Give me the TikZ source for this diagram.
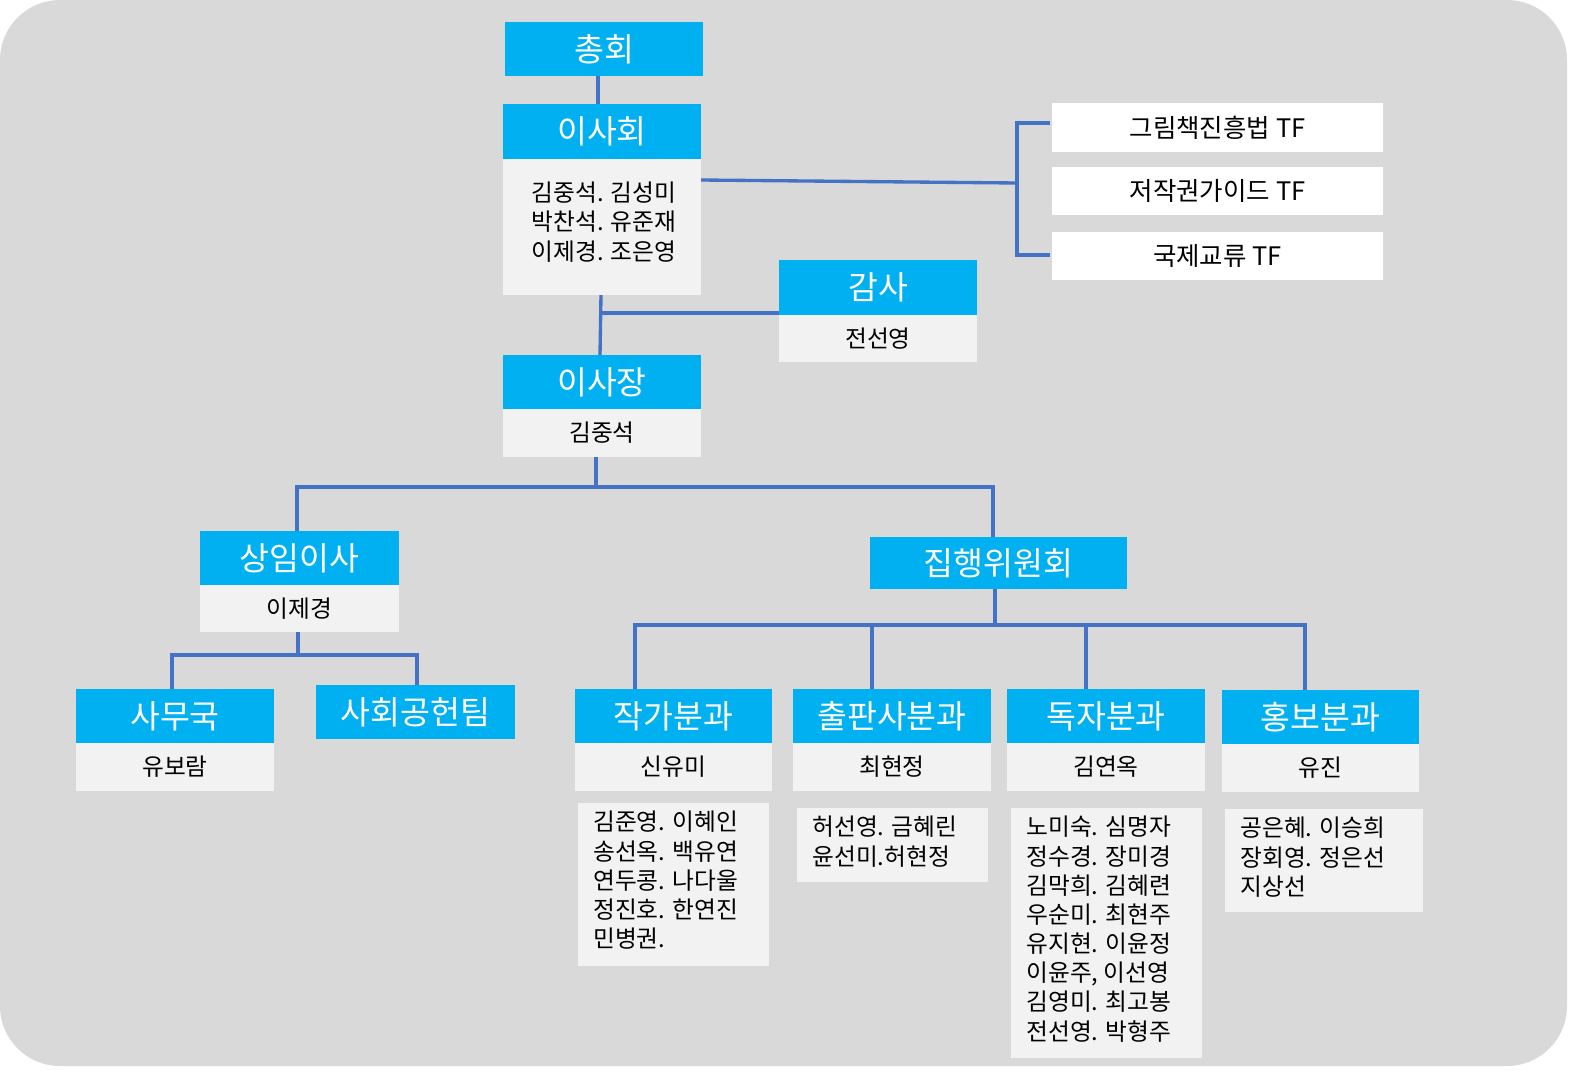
\documentclass[tikz,border=0pt]{standalone}
\usepackage{fontspec}
\setmainfont{Noto Sans CJK KR}
\newcommand\hb[6]{\fill[cyanb] (#2,#3) rectangle (#4,#5); \node[hd] (#1) at ({(#2+#4)/2},{(#3+#5)/2}) {#6};}
\newcommand\gb[6]{\fill[lgray] (#2,#3) rectangle (#4,#5); \node[bd] (#1) at ({(#2+#4)/2},{(#3+#5)/2}) {#6};}
\newcommand\wb[6]{\fill[white] (#2,#3) rectangle (#4,#5); \node[tf] (#1) at ({(#2+#4)/2},{(#3+#5)/2}) {#6};}
\newcommand\lb[6]{\fill[lgray] (#2,#3) rectangle (#4,#5); \node[bd,align=left,anchor=north west,inner sep=0pt,font=\fontsize{13.5}{16.6}\selectfont] (#1) at (#2+15,#3+8) {#6};}
\begin{document}
\begin{tikzpicture}[x=0.02cm,y=-0.02cm,
  hd/.style={text=white,font=\fontsize{18.5}{22}\selectfont},
  bd/.style={font=\fontsize{13.5}{16}\selectfont},
  tf/.style={font=\fontsize{14.5}{17}\selectfont},
  ln/.style={draw=lblue,line width=1.9pt}]
\definecolor{cyanb}{HTML}{00B0F0}
\definecolor{lgray}{HTML}{F2F2F2}
\definecolor{bg}{HTML}{D9D9D9}
\definecolor{lblue}{HTML}{4472C4}
\fill[bg,rounded corners=1.2cm] (0,0) rectangle (1567,1066);
% connectors
\coordinate (c1) at (598,76); \coordinate (c2) at (598,104);
\draw[ln] (c1) -- (c2);
\coordinate (r1) at (701,180); \coordinate (r2) at (1017,183);
\coordinate (t1) at (1050,123); \coordinate (t3) at (1050,255);
\draw[ln] (r1) -- (r2);
\draw[ln] (t1) -- (1017,123) -- (1017,255) -- (t3);
\coordinate (e1) at (601,295); \coordinate (e2) at (600,355);
\draw[ln] (e1) -- (e2);
\coordinate (g1) at (601,313); \coordinate (g2) at (779,313);
\draw[ln] (g1) -- (g2);
\coordinate (p1) at (596,457);
\coordinate (s1) at (297,531); \coordinate (s2) at (993,537);
\draw[ln] (p1) -- (596,487);
\draw[ln] (s1) -- (297,487) -- (993,487) -- (s2);
\coordinate (q1) at (298,632); \coordinate (q2) at (172,689); \coordinate (q3) at (417,685);
\draw[ln] (q1) -- (298,655);
\draw[ln] (q2) -- (172,655) -- (417,655) -- (q3);
\coordinate (x1) at (995,589);
\coordinate (d1) at (635,689); \coordinate (d2) at (872,689); \coordinate (d3) at (1086,689); \coordinate (d4) at (1305,690);
\draw[ln] (x1) -- (995,625);
\draw[ln] (d1) -- (635,625) -- (1305,625) -- (d4);
\draw[ln] (872,625) -- (d2);
\draw[ln] (1086,625) -- (d3);
% boxes
\hb{chonghoe}{505}{22}{703}{76}{총회}
\hb{isahoe}{503}{104}{701}{159}{이사회}
\gb{isahoeb}{503}{159}{701}{295}{}
\node[bd,align=left,font=\fontsize{13.5}{16.6}\selectfont] (isamem) at (604,222) {김중석. 김성미\\박찬석. 유준재\\이제경. 조은영};
\wb{tfa}{1052}{103}{1383}{152}{그림책진흥법 TF}
\wb{tfb}{1052}{167}{1383}{215}{저작권가이드 TF}
\wb{tfc}{1052}{232}{1383}{280}{국제교류 TF}
\hb{gamsa}{779}{260}{977}{315}{감사}
\gb{gamsab}{779}{315}{977}{362}{전선영}
\hb{isajang}{503}{355}{701}{409}{이사장}
\gb{isajangb}{503}{409}{701}{457}{김중석}
\hb{sangim}{200}{531}{399}{585}{상임이사}
\gb{sangimb}{200}{585}{399}{632}{이제경}
\hb{jiphaeng}{870}{537}{1127}{589}{집행위원회}
\hb{samu}{76}{689}{274}{743}{사무국}
\gb{samub}{76}{743}{274}{791}{유보람}
\hb{sahoe}{316}{685}{515}{739}{사회공헌팀}
\hb{jakga}{575}{689}{772}{743}{작가분과}
\gb{jakgab}{575}{743}{772}{791}{신유미}
\hb{chulpan}{793}{689}{991}{743}{출판사분과}
\gb{chulpanb}{793}{743}{991}{791}{최현정}
\hb{dokja}{1007}{689}{1205}{743}{독자분과}
\gb{dokjab}{1007}{743}{1205}{791}{김연옥}
\hb{hongbo}{1222}{690}{1419}{744}{홍보분과}
\gb{hongbob}{1222}{744}{1419}{792}{유진}
\lb{jl}{578}{803}{769}{966}{김준영. 이혜인\\송선옥. 백유연\\연두콩. 나다울\\정진호. 한연진\\민병권.}
\lb{cl}{797}{808}{988}{882}{허선영. 금혜린\\윤선미.허현정}
\lb{dl}{1011}{808}{1202}{1058}{노미숙. 심명자\\정수경. 장미경\\김막희. 김혜련\\우순미. 최현주\\유지현. 이윤정\\이윤주, 이선영\\김영미. 최고봉\\전선영. 박형주}
\lb{hl}{1225}{809}{1423}{912}{공은혜. 이승희\\장회영. 정은선\\지상선}
\pgfresetboundingbox
\useasboundingbox (0,0) rectangle (1593,1085);
\end{tikzpicture}
\end{document}
